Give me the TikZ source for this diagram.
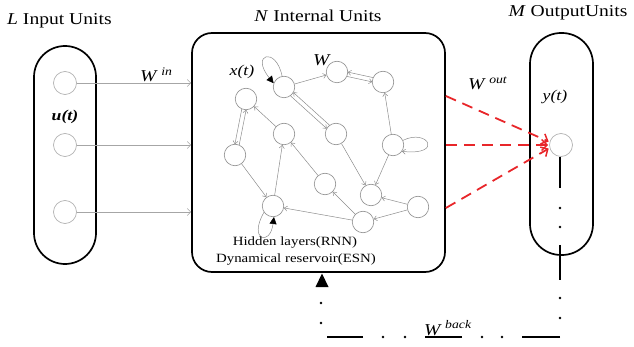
\documentclass[tikz,border=0pt]{standalone}
\usepackage{fontspec}
\setmainfont{Liberation Serif}
\usetikzlibrary{arrows.meta,calc}
\definecolor{rd}{HTML}{E8262A}
\definecolor{eg}{HTML}{8C8C8C}
\newcommand\sx[1]{\scalebox{1.18}[1]{#1}}
\begin{document}
\begin{tikzpicture}[x=1pt,y=-1pt,
 unit/.style={circle,draw=eg,line width=0.6pt,minimum size=21.5pt,inner sep=0pt},
 iounit/.style={circle,draw=gray!60,line width=0.7pt,minimum size=23pt,inner sep=0pt},
 edge/.style={draw=eg,line width=0.5pt,-{Straight Barb[length=3pt,width=5pt]}},
 inarrow/.style={draw=gray!70,line width=0.6pt,-{Straight Barb[length=3.5pt,width=7pt]}},
 unitbox/.style={draw=black,line width=1.7pt,inner sep=0pt},
 reddash/.style={draw=rd,line width=1.8pt,dash pattern=on 11pt off 7pt,-{Straight Barb[length=5.5pt,width=11pt,line width=1.5pt]}},
 blk/.style={draw=black,line width=1.8pt},
 dotn/.style={circle,fill=black,inner sep=0pt,minimum size=2.8pt},
 loopblk/.style={draw=eg,line width=0.5pt,-{Triangle[length=7pt,width=7pt,color=black]}},
 lbl/.style={font=\fontsize{16.6}{19}\selectfont},
 mid/.style={font=\fontsize{15}{17}\selectfont},
 small/.style={font=\fontsize{12.6}{14}\selectfont},
 dbl/.style={edge,shorten <=10.5pt,shorten >=10.5pt}
]
\useasboundingbox (0,0) rectangle (634,347);

% boxes
\node[unitbox,rounded corners=31pt,minimum width=62pt,minimum height=218pt] (inbox) at (65,155) {};
\node[unitbox,rounded corners=20pt,minimum width=253pt,minimum height=239pt] (res) at (318.5,152.5) {};
\node[unitbox,rounded corners=31pt,minimum width=63pt,minimum height=222pt] (outbox) at (561.5,144) {};

% titles
\node[lbl,anchor=base west,inner sep=0pt] (tin) at (7,25) {\sx{\textit{L} Input Units}};
\node[lbl,anchor=base,inner sep=0pt] (tres) at (318,22) {\sx{\textit{N} Internal Units}};
\node[lbl,anchor=base,inner sep=0pt] (tout) at (568,17) {\sx{\textit{M} OutputUnits}};

% input units
\node[iounit] (u1) at (65,83) {};
\node[iounit] (u2) at (65,145) {};
\node[iounit] (u3) at (65,212) {};
\node[mid,inner sep=0pt] (ut) at (65,117) {\sx{\textbf{\textit{u(t)}}}};
\draw[inarrow] (u1) -- (u1 -| res.west);
\draw[inarrow] (u2) -- (u2 -| res.west);
\draw[inarrow] (u3) -- (u3 -| res.west);
\node[lbl,anchor=base west,inner sep=0pt] (win) at (140,82) {\sx{\textit{W}\,\textsuperscript{\textit{in}}}};

% internal units
\node[unit] (n1) at (284,87) {};
\node[unit] (n2) at (337,72) {};
\node[unit] (n3) at (383,82) {};
\node[unit] (n4) at (246,99) {};
\node[unit] (n5) at (284,134) {};
\node[unit] (n6) at (336,134) {};
\node[unit] (n7) at (393,145) {};
\node[unit] (n8) at (235,155) {};
\node[unit] (n9) at (325,184) {};
\node[unit] (n10) at (371,195) {};
\node[unit] (n11) at (418,207) {};
\node[unit] (n12) at (273,206) {};
\node[unit] (n13) at (363,222) {};

\node[mid,inner sep=0pt] (xt) at (242,72) {\sx{\textit{x(t)}}};
\node[lbl,anchor=base,inner sep=0pt] (wres) at (322,66) {\sx{\textit{W}}};

\draw[edge] (n1) -- (n2);
\draw[dbl] ($(n2)!2.2pt!-90:(n3)$) -- ($(n3)!2.2pt!90:(n2)$);
\draw[dbl] ($(n3)!2.2pt!-90:(n2)$) -- ($(n2)!2.2pt!90:(n3)$);
\draw[edge] (n7) -- (n3);
\draw[edge] (n7) -- (n10);
\draw[edge] (n6) -- (n10);
\draw[dbl] ($(n6)!2.2pt!-90:(n1)$) -- ($(n1)!2.2pt!90:(n6)$);
\draw[dbl] ($(n1)!2.2pt!-90:(n6)$) -- ($(n6)!2.2pt!90:(n1)$);
\draw[dbl] ($(n4)!2.2pt!-90:(n8)$) -- ($(n8)!2.2pt!90:(n4)$);
\draw[dbl] ($(n8)!2.2pt!-90:(n4)$) -- ($(n4)!2.2pt!90:(n8)$);
\draw[edge] (n5) -- (n4);
\draw[edge] (n8) -- (n12);
\draw[edge] (n12) -- (n5);
\draw[edge] (n9) -- (n5);
\draw[edge] (n13) -- (n9);
\draw[edge] (n13) -- (n12);
\draw[edge] (n11) -- (n13);
\draw[edge] (n11) -- (n10);

% self loops
\draw[loopblk] (n1.100) .. controls (276,46) and (250,54) .. (n1.160);
\draw[loopblk] (n12.215) .. controls (248,240) and (270,247) .. (n12.275);
\draw[edge] (n7.25) .. controls (428,128) and (444,156) .. (n7.-35);

\node[small,inner sep=0pt] (hl1) at (295,242) {\sx{Hidden layers(RNN)}};
\node[small,inner sep=0pt] (hl2) at (296,259) {\sx{Dynamical reservoir(ESN)}};

% output
\node[iounit] (y1) at (561,145) {};
\node[mid,inner sep=0pt] (yt) at (555,97) {\sx{\textit{y(t)}}};
\coordinate (o1) at ($(res.east)+(0,-56.5)$);
\coordinate (o2) at ($(res.east)+(0,-7.5)$);
\coordinate (o3) at ($(res.east)+(0,55.5)$);
\draw[reddash,shorten >=1pt] (o1) -- (y1.165);
\draw[reddash,shorten >=1pt] (o2) -- (y1.180);
\draw[reddash,shorten >=1pt] (o3) -- (y1.195);
\node[lbl,anchor=base west,inner sep=0pt] (wout) at (468,90) {\sx{\textit{W}\,\textsuperscript{\textit{out}}}};

% back path
\coordinate (b1) at (560,188);
\coordinate (b2) at (560,245);
\coordinate (b3) at (560,280);
\coordinate (h1) at (560,337);
\coordinate (h2) at (522,337);
\coordinate (h3) at (462,337);
\coordinate (h4) at (425,337);
\coordinate (h5) at (363,337);
\coordinate (h6) at (327,337);
\draw[blk] (y1.south -| b1) -- (b1);
\draw[blk] (b2) -- (b3);
\draw[blk] (h1) -- (h2);
\draw[blk] (h3) -- (h4);
\draw[blk] (h5) -- (h6);
\node[dotn] (d1) at (560,208) {};
\node[dotn] (d2) at (560,227) {};
\node[dotn] (d3) at (560,298) {};
\node[dotn] (d4) at (560,318) {};
\node[dotn] (d5) at (502,337) {};
\node[dotn] (d6) at (482,337) {};
\node[dotn] (d7) at (405,337) {};
\node[dotn] (d8) at (383,337) {};
\node[dotn] (d9) at (321,323) {};
\node[dotn] (d10) at (321,303) {};
\fill[black] (315.5,287) -- (328.5,287) -- (322,273.5) -- cycle;
\node[lbl,anchor=base,inner sep=0pt] (wback) at (448,335) {\sx{\textit{W}\,\textsuperscript{\textit{back}}}};
\end{tikzpicture}
\end{document}
